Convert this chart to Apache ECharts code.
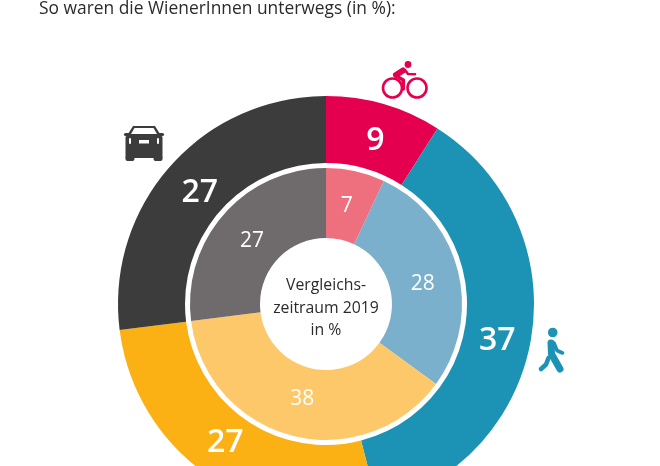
<!DOCTYPE html>
<html lang="de">
<head>
    <meta charset="UTF-8">
    <title>So waren die WienerInnen unterwegs</title>
    <script src="https://cdn.jsdelivr.net/npm/echarts@6/dist/echarts.min.js"></script>
    <style>
        html, body { margin: 0; padding: 0; background: #fff; }
        .chart { width: 660px; height: 466px; }
    </style>
</head>
<body>
<div class="chart"></div>

<script>
    const headline = 'So waren die WienerInnen unterwegs (in %):';
    const centerLabel = 'Vergleichs-\nzeitraum 2019\nin %';
    const modes = ['Rad', 'zu Fuß', 'Öffis', 'Auto'];
    const values2020 = [9, 37, 27, 27];
    const values2019 = [7, 28, 38, 27];
    const colors2020 = ['#e4004f', '#1c93b5', '#fbb013', '#3d3c3d'];
    const colors2019 = ['#ee6f7d', '#7ab0cc', '#fcc869', '#6f6a6b'];

    const font = '"Open Sans", sans-serif';
    const center = [326, 304];

    // labels don't sit exactly mid ring in the original
    const nudge2020 = [[0, 7], [-4, 9], [-1, -8], [7, 6]];
    const nudge2019 = [[-2, 4], [-4, 6], [2, -6], [4, 6]];

    function toData(values, colors) {
        return values.map((value, i) => ({
            name: modes[i],
            value,
            itemStyle: { color: colors[i] }
        }));
    }

    function nudged(list) {
        return params => ({ dx: list[params.dataIndex][0], dy: list[params.dataIndex][1] });
    }

    let chart = echarts.init(document.querySelector('.chart'), null, { renderer: 'canvas' });

    chart.setOption({
        backgroundColor: '#fff',
        animation: false,
        title: [
            {
                text: headline,
                left: 34,
                top: -4,
                textStyle: { color: '#2b2b2b', fontFamily: font, fontSize: 17.4, fontWeight: 'normal' }
            }
        ],
        series: [
            {
                type: 'pie',
                center,
                radius: [141, 208],
                startAngle: 90,
                clockwise: true,
                silent: true,
                labelLine: { show: false },
                labelLayout: nudged(nudge2020),
                label: {
                    position: 'inside',
                    formatter: '{c}',
                    color: '#fff',
                    fontFamily: font,
                    fontSize: 32,
                    fontWeight: 600
                },
                data: toData(values2020, colors2020)
            },
            {
                type: 'pie',
                center,
                radius: [66, 136],
                startAngle: 90,
                clockwise: true,
                silent: true,
                labelLine: { show: false },
                labelLayout: nudged(nudge2019),
                label: {
                    position: 'inside',
                    formatter: '{c}',
                    color: '#fff',
                    fontFamily: font,
                    fontSize: 21,
                    fontWeight: 'normal'
                },
                data: toData(values2019, colors2019)
            }
        ],
        graphic: [
            {
                type: 'text',
                style: {
                    x: 326,
                    y: 308,
                    text: centerLabel,
                    align: 'center',
                    verticalAlign: 'middle',
                    fill: '#2b2b2b',
                    font: '15.8px ' + font,
                    lineHeight: 22.5
                }
            },
            // Auto
            {
                type: 'group',
                x: 124,
                y: 126,
                children: [
                    { type: 'rect', z: 10, shape: { x: 1.5, y: 30, width: 9, height: 5, r: 2 }, style: { fill: '#3d3c3d' } },
                    { type: 'rect', z: 10, shape: { x: 29.5, y: 30, width: 9, height: 5, r: 2 }, style: { fill: '#3d3c3d' } },
                    { type: 'rect', z: 10, shape: { x: 0, y: 7, width: 40, height: 3, r: 1.5 }, style: { fill: '#3d3c3d' } },
                    { type: 'polygon', z: 10, shape: { points: [[9, 0], [31, 0], [36, 8], [38.5, 11], [38.5, 32], [1.5, 32], [1.5, 11], [4, 8]] }, style: { fill: '#3d3c3d' } },
                    { type: 'polygon', z: 11, shape: { points: [[10.5, 2], [29.5, 2], [33, 8], [7, 8]] }, style: { fill: '#fff' } },
                    { type: 'rect', z: 11, shape: { x: 5, y: 12, width: 2, height: 6, r: 1 }, style: { fill: '#fff' } },
                    { type: 'rect', z: 11, shape: { x: 33, y: 12, width: 2, height: 6, r: 1 }, style: { fill: '#fff' } },
                    { type: 'rect', z: 11, shape: { x: 15, y: 14, width: 10, height: 3.5 }, style: { fill: '#fff' } }
                ]
            },
            // Rad
            {
                type: 'group',
                x: 381,
                y: 62,
                children: [
                    { type: 'circle', shape: { cx: 11.5, cy: 26, r: 9.5 }, style: { fill: 'none', stroke: '#e4004f', lineWidth: 2.6 } },
                    { type: 'circle', shape: { cx: 36, cy: 26, r: 9.5 }, style: { fill: 'none', stroke: '#e4004f', lineWidth: 2.6 } },
                    { type: 'circle', shape: { cx: 27, cy: 2.5, r: 3.4 }, style: { fill: '#e4004f' } },
                    {
                        type: 'polyline',
                        shape: { points: [[22, 8.5], [15, 13]] },
                        style: { fill: 'none', stroke: '#e4004f', lineWidth: 6, lineJoin: 'round', lineCap: 'round' }
                    },
                    {
                        type: 'polyline',
                        shape: { points: [[15, 14], [22.3, 18], [22.3, 27]] },
                        style: { fill: 'none', stroke: '#e4004f', lineWidth: 3.6, lineJoin: 'round', lineCap: 'round' }
                    },
                    {
                        type: 'polyline',
                        shape: { points: [[24, 8], [27, 12], [34, 12.3]] },
                        style: { fill: 'none', stroke: '#e4004f', lineWidth: 2.6, lineJoin: 'round', lineCap: 'round' }
                    }
                ]
            },
            // zu Fuß
            {
                type: 'group',
                x: 539,
                y: 328,
                children: [
                    { type: 'circle', shape: { cx: 13.7, cy: 4.5, r: 4.8 }, style: { fill: '#1c93b5' } },
                    {
                        type: 'polyline',
                        shape: { points: [[12, 15], [12.5, 26], [21, 41]] },
                        style: { fill: 'none', stroke: '#1c93b5', lineWidth: 7, lineJoin: 'round', lineCap: 'round' }
                    },
                    {
                        type: 'polyline',
                        shape: { points: [[9.5, 30], [7, 36.5], [2, 41]] },
                        style: { fill: 'none', stroke: '#1c93b5', lineWidth: 4.6, lineJoin: 'round', lineCap: 'round' }
                    },
                    {
                        type: 'polyline',
                        shape: { points: [[15, 15], [18, 22.5], [23.5, 25]] },
                        style: { fill: 'none', stroke: '#1c93b5', lineWidth: 3.6, lineJoin: 'round', lineCap: 'round' }
                    }
                ]
            }
        ]
    });
</script>
</body>
</html>
